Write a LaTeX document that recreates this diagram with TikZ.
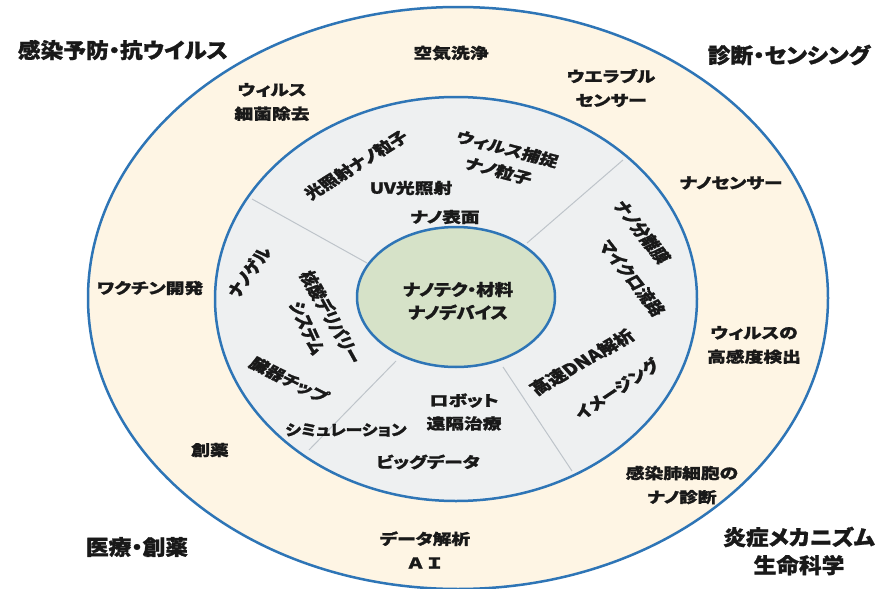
\documentclass[tikz,border=0pt]{standalone}
\usepackage{fontspec}
\setmainfont{Noto Sans CJK JP}[RawFeature={+palt}, BoldFeatures={FakeBold=1.2}]
\definecolor{ringblue}{RGB}{46,117,182}
\definecolor{outerfill}{RGB}{254,245,228}
\definecolor{midfill}{RGB}{238,240,241}
\definecolor{innerfill}{RGB}{214,226,200}
\definecolor{divider}{RGB}{190,196,202}
\definecolor{txt}{RGB}{25,25,25}
\begin{document}
\begin{tikzpicture}[x=1pt,y=-1pt,
  cat/.style={font=\fontsize{21}{28}\selectfont\bfseries, align=center, text=txt, inner sep=0pt, xscale=1.08},
  outerlbl/.style={font=\fontsize{15}{24}\selectfont\bfseries, align=center, text=txt, inner sep=0pt, xscale=1.25},
  midlbl/.style={font=\fontsize{15}{23}\selectfont\bfseries, align=center, text=txt, inner sep=0pt, xscale=1.25},
  centerlbl/.style={font=\fontsize{16}{23}\selectfont\bfseries, align=center, text=txt, inner sep=0pt, xscale=1.15},
  ring/.style={draw=ringblue, line width=2.5pt},
  divline/.style={draw=divider, line width=1pt}]
\useasboundingbox (0,0) rectangle (879,589);
\fill[white] (0,0) rectangle (879,589);
% rings
\path[ring, fill=outerfill] (458,298) ellipse [x radius=370, y radius=291];
\path[ring, fill=midfill] (456,299) ellipse [x radius=241, y radius=202];
% dividers
\coordinate (d1a) at (367,263); \coordinate (d1b) at (252,199);
\coordinate (d2a) at (527,243); \coordinate (d2b) at (623,160);
\coordinate (d3a) at (396,361); \coordinate (d3b) at (309,450);
\coordinate (d4a) at (503,367); \coordinate (d4b) at (572,471);
\draw[divline] (d1a) -- (d1b);
\draw[divline] (d2a) -- (d2b);
\draw[divline] (d3a) -- (d3b);
\draw[divline] (d4a) -- (d4b);
\path[ring, fill=innerfill] (456,297) ellipse [x radius=99, y radius=70];
% category titles
\node[cat] (c1) at (123,50) {感染予防・抗ウイルス};
\node[cat] (c2) at (789,55) {診断・センシング};
\node[cat] (c3) at (137,547) {医療・創薬};
\node[cat] (c4) at (799,551) {炎症メカニズム\\生命科学};
% outer ring labels
\node[outerlbl] (o1) at (451,53) {空気洗浄};
\node[outerlbl] (o2) at (272,102) {ウィルス\\細菌除去};
\node[outerlbl] (o3) at (611,88) {ウエラブル\\センサー};
\node[outerlbl] (o4) at (731,183) {ナノセンサー};
\node[outerlbl] (o5) at (150,288) {ワクチン開発};
\node[outerlbl] (o6) at (754,345) {ウィルスの\\高感度検出};
\node[outerlbl] (o7) at (210,450) {創薬};
\node[outerlbl] (o8) at (682,485) {感染肺細胞の\\ナノ診断};
\node[outerlbl] (o9) at (425,550) {データ解析\\Ａ Ｉ};
% middle ring labels (stretch first, then rotate, as in the reference)
\node[midlbl, rotate=38] (m1) at (356,165) {光照射ナノ粒子};
\node[midlbl] (m2) at (411,188) {UV光照射};
\node[midlbl] (m3) at (445,217) {ナノ表面};
\node[midlbl, rotate=-18] (m4) at (503,160) {ウィルス捕捉\\ナノ粒子};
\node[midlbl, rotate=-58] (m5) at (642,232) {ナノ分離膜};
\node[midlbl, rotate=-58] (m6) at (632,278) {マイクロ流路};
\node[midlbl, rotate=36, font=\fontsize{16}{20}\selectfont\bfseries] (m7) at (582,362) {高速DNA解析};
\node[midlbl, rotate=40] (m8) at (617,389) {イメージング};
\node[midlbl] (m9) at (464,412) {ロボット\\遠隔治療};
\node[midlbl] (m10) at (428,462) {ビッグデータ};
\node[midlbl, xscale=0.9] (m11) at (346,430) {シミュレーション};
\node[midlbl, rotate=-32] (m12) at (289,380) {臓器チップ};
\node[midlbl, rotate=-66] (m13) at (331,317) {核酸デリバリー};
\node[midlbl, rotate=-70] (m14) at (307,328) {システム};
\node[midlbl, rotate=60] (m15) at (249,272) {ナノゲル};
% center
\node[centerlbl] (ctr) at (458,301) {ナノテク・材料\\ナノデバイス};
\end{tikzpicture}
\end{document}
